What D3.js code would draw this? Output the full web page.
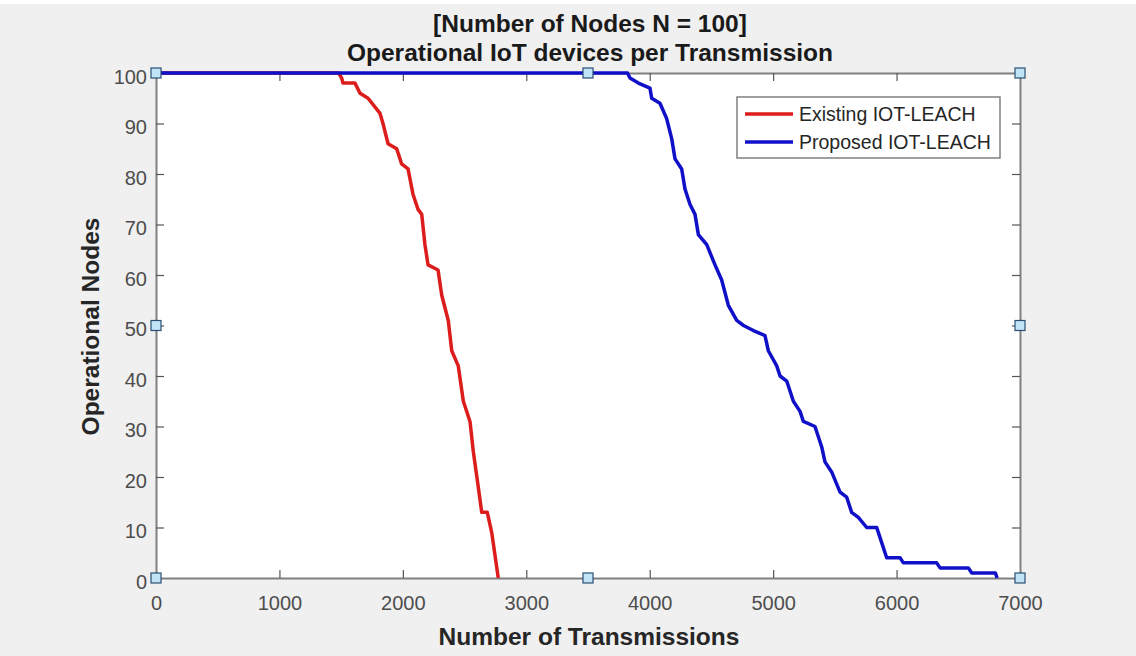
<!DOCTYPE html>
<html>
<head>
<meta charset="utf-8">
<script src="https://cdn.jsdelivr.net/npm/d3@7"></script>
<style>
  html, body { margin: 0; padding: 0; background: #f0f0f0; }
  svg { display: block; font-family: "Liberation Sans", Arial, sans-serif; }
</style>
</head>
<body>
<svg id="chart" width="1136" height="656"></svg>
<script>
// ---- data ----
const titleLines = ["[Number of Nodes N = 100]", "Operational IoT devices per Transmission"];
const xLabel = "Number of Transmissions";
const yLabel = "Operational Nodes";
const xTicks = [0, 1000, 2000, 3000, 4000, 5000, 6000, 7000];
const yTicks = [0, 10, 20, 30, 40, 50, 60, 70, 80, 90, 100];
const seriesNames = ["Existing IOT-LEACH", "Proposed IOT-LEACH"];

const existingX = [0, 1480, 1504, 1515, 1612, 1653, 1718, 1815, 1839, 1880, 1950, 1990, 2042, 2082, 2123, 2153, 2179, 2204, 2285, 2315, 2368, 2396, 2449, 2490, 2544, 2571, 2611, 2639, 2684, 2720, 2773];
const existingY = [100, 100, 99, 98, 98, 96, 95, 92, 90, 86, 85, 82, 81, 76, 73, 72, 66, 62, 61, 56, 51, 45, 42, 35, 31, 25, 18, 13, 13, 9, 0];

const proposedX = [0, 3820, 3840, 3908, 4002, 4016, 4083, 4137, 4178, 4205, 4259, 4286, 4326, 4367, 4394, 4462, 4529, 4583, 4637, 4705, 4760, 4840, 4934, 4961, 5029, 5056, 5110, 5164, 5218, 5245, 5339, 5393, 5420, 5474, 5542, 5596, 5636, 5690, 5758, 5839, 5866, 5920, 6028, 6055, 6325, 6352, 6582, 6609, 6800, 6815];
const proposedY = [100, 100, 99, 98, 97, 95, 94, 91, 87, 83, 81, 77, 74, 72, 68, 66, 62, 59, 54, 51, 50, 49, 48, 45, 42, 40, 39, 35, 33, 31, 30, 26, 23, 21, 17, 16, 13, 12, 10, 10, 8, 4, 4, 3, 3, 2, 2, 1, 1, 0];

const handleX = [0, 3500, 7000, 0, 7000, 0, 3500, 7000];
const handleY = [100, 100, 100, 50, 50, 0, 0, 0];

// ---- layout ----
const svg = d3.select("#chart");
const pL = 156, pR = 1020, pT = 73, pB = 578;
const x = d3.scaleLinear().domain([0, 7000]).range([pL, pR]);
const y = d3.scaleLinear().domain([0, 100]).range([pB, pT]);
const axisColor = "#808080";
const tickTextColor = "#4d4d4d";

svg.append("rect").attr("x", 0).attr("y", 0).attr("width", 1136).attr("height", 656).attr("fill", "#f0f0f0");
svg.append("rect").attr("x", 0).attr("y", 0).attr("width", 1136).attr("height", 4).attr("fill", "#ffffff");
svg.append("rect").attr("x", pL).attr("y", pT).attr("width", pR - pL).attr("height", pB - pT).attr("fill", "#ffffff");

// axes
function styleAxis(g) {
  g.selectAll("path.domain").attr("stroke", axisColor).attr("stroke-width", 2);
  g.selectAll(".tick line").attr("stroke", "#555").attr("stroke-width", 1.2);
  g.selectAll(".tick text").attr("fill", tickTextColor).attr("font-size", 20);
}
const gxb = svg.append("g").attr("transform", `translate(0,${pB})`)
  .call(d3.axisBottom(x).tickValues(xTicks).tickSizeInner(-8).tickSizeOuter(0).tickFormat(d3.format("d")));
styleAxis(gxb);
gxb.selectAll(".tick text").attr("y", 32).attr("dy", null);
const gxt = svg.append("g").attr("transform", `translate(0,${pT})`)
  .call(d3.axisTop(x).tickValues(xTicks).tickSizeInner(-8).tickSizeOuter(0).tickFormat(""));
styleAxis(gxt);
const gyl = svg.append("g").attr("transform", `translate(${pL},0)`)
  .call(d3.axisLeft(y).tickValues(yTicks).tickSizeInner(-8).tickSizeOuter(0).tickFormat(d3.format("d")));
styleAxis(gyl);
gyl.selectAll(".tick text").attr("x", -9).attr("dy", "0.5em");
const gyr = svg.append("g").attr("transform", `translate(${pR},0)`)
  .call(d3.axisRight(y).tickValues(yTicks).tickSizeInner(-8).tickSizeOuter(0).tickFormat(""));
styleAxis(gyr);
[gxb, gxt].forEach(g => g.selectAll(".tick").filter(d => d === 0 || d === 7000).select("line").remove());
[gyl, gyr].forEach(g => g.selectAll(".tick").filter(d => d === 0 || d === 100).select("line").remove());

// lines
const line = d3.line().x(d => x(d[0])).y(d => y(d[1]));
const existing = existingX.map((v, i) => [v, existingY[i]]);
const proposed = proposedX.map((v, i) => [v, proposedY[i]]);
svg.append("path").datum(existing).attr("d", line).attr("fill", "none")
  .attr("stroke", "#dd1c1c").attr("stroke-width", 3.5).attr("stroke-linejoin", "round");
svg.append("path").datum(proposed).attr("d", line).attr("fill", "none")
  .attr("stroke", "#1010c8").attr("stroke-width", 3.5).attr("stroke-linejoin", "round");

// selection handles
svg.selectAll("rect.handle").data(handleX.map((v, i) => [v, handleY[i]])).enter()
  .append("rect").attr("class", "handle")
  .attr("x", d => x(d[0]) - 5).attr("y", d => y(d[1]) - 5)
  .attr("width", 10).attr("height", 10)
  .attr("fill", "#c2e4f7").attr("stroke", "#2a4f70").attr("stroke-width", 1.2);

// legend
const lg = svg.append("g");
lg.append("rect").attr("x", 737).attr("y", 97).attr("width", 263).attr("height", 61)
  .attr("fill", "#ffffff").attr("stroke", axisColor).attr("stroke-width", 1.5);
const legendColors = ["#dd1c1c", "#1010c8"];
seriesNames.forEach((name, i) => {
  const yy = 114 + i * 28;
  lg.append("line").attr("x1", 745).attr("x2", 793).attr("y1", yy).attr("y2", yy)
    .attr("stroke", legendColors[i]).attr("stroke-width", 3.5);
  lg.append("text").attr("x", 799).attr("y", yy).attr("dy", "0.35em")
    .attr("font-size", 19.5).attr("fill", "#262626").text(name);
});

// titles
const titleBaselines = [32, 61];
titleLines.forEach((t, i) => {
  svg.append("text").attr("x", (pL + pR) / 2 + 2).attr("y", titleBaselines[i])
    .attr("text-anchor", "middle").attr("font-weight", "bold").attr("font-size", 24.5)
    .attr("fill", "#1a1a1a").text(t);
});
svg.append("text").attr("x", (pL + pR) / 2 + 1).attr("y", 645)
  .attr("text-anchor", "middle").attr("font-weight", "bold").attr("font-size", 24.5)
  .attr("fill", "#262626").text(xLabel);
svg.append("text").attr("transform", `translate(99,${(pT + pB) / 2 + 1}) rotate(-90)`)
  .attr("text-anchor", "middle").attr("font-weight", "bold").attr("font-size", 24.5)
  .attr("fill", "#262626").text(yLabel);
</script>
</body>
</html>
